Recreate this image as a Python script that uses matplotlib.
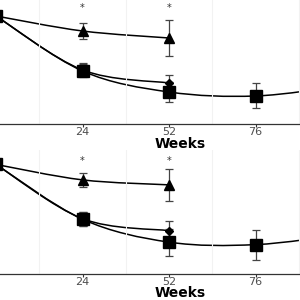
import matplotlib
matplotlib.use("Agg")
import matplotlib.pyplot as plt
from matplotlib.path import Path
from matplotlib.patches import PathPatch
import numpy as np

plt.rcParams['font.family'] = ['DejaVu Sans']

weeks = ["0", "24", "52", "76", "104"]

# panel 1 (arbitrary units)
top_tri = [10.8, 9.3, 8.6]
top_tri_err = [0, 0.8, 1.8]
top_dia = [10.8, 5.4, 4.1]
top_dia_err = [0, 0.65, 0.8]
top_sq = [10.8, 5.3, 3.2, 2.8, 3.8]
top_sq_err = [0, 0.65, 1.0, 1.25, 1.2]
top_star = 11.6

# panel 2
bot_tri = [10.95, 9.4, 8.9]
bot_tri_err = [0, 0.7, 1.6]
bot_dia = [10.95, 5.5, 4.3]
bot_dia_err = [0, 0.7, 1.0]
bot_sq = [10.95, 5.45, 3.15, 2.9, 3.9]
bot_sq_err = [0, 0.7, 1.35, 1.5, 1.3]
bot_star = 11.25


def smooth_line(ax, xs, ys, lw=1.1):
    """draw a Catmull-Rom style bezier through the points"""
    pts = np.column_stack([xs, ys]).astype(float)
    verts = [pts[0]]
    codes = [Path.MOVETO]
    n = len(pts)
    for i in range(n - 1):
        p0 = pts[i - 1] if i > 0 else pts[i]
        p1 = pts[i]
        p2 = pts[i + 1]
        p3 = pts[i + 2] if i + 2 < n else pts[i + 1]
        c1 = p1 + (p2 - p0) / 6.0
        c2 = p2 - (p3 - p1) / 6.0
        verts += [c1, c2, p2]
        codes += [Path.CURVE4] * 3
    ax.add_patch(PathPatch(Path(verts, codes), facecolor='none',
                           edgecolor='black', lw=lw))


def panel(ax, tri, tri_err, dia, dia_err, sq, sq_err, star):
    x_tri = np.arange(len(tri))
    x_dia = np.arange(len(dia))
    x_sq = np.arange(len(sq))

    smooth_line(ax, x_tri, tri)
    smooth_line(ax, x_dia, dia)
    smooth_line(ax, x_sq, sq)

    ekw = dict(fmt='none', ecolor='#444444', elinewidth=0.9, capsize=3, capthick=0.9)
    ax.errorbar(x_tri[1:], tri[1:], yerr=tri_err[1:], **ekw)
    ax.errorbar(x_dia[1:], dia[1:], yerr=dia_err[1:], **ekw)
    ax.errorbar(x_sq[1:], sq[1:], yerr=sq_err[1:], **ekw)

    ax.plot(x_tri, tri, ls='none', marker='^', ms=7, color='black')
    ax.plot(x_dia, dia, ls='none', marker='D', ms=4.5, color='black')
    ax.plot(x_sq, sq, ls='none', marker='s', ms=8, color='black')

    for xi in x_tri[1:]:
        ax.text(xi, star, "*", ha='center', va='center', fontsize=7, color='#333333')

    ax.set_xticks(np.arange(len(weeks)))
    ax.set_xticklabels(weeks)
    ax.set_xticks(np.arange(len(weeks)) - 0.5, minor=True)
    ax.set_xlim(0.0462, 3.514)
    ax.set_ylim(0, 12.4)
    ax.grid(which='minor', axis='x', color='#f2f2f2', lw=0.8)
    ax.set_yticks([])
    for s in ['left', 'top', 'right']:
        ax.spines[s].set_visible(False)
    ax.spines['bottom'].set_linewidth(0.9)
    ax.spines['bottom'].set_color('#333333')
    ax.tick_params(axis='x', which='major', length=2.5, width=0.8, color='#333333',
                   labelsize=8, labelcolor='#4d4d4d', pad=0)
    ax.tick_params(axis='x', which='minor', length=0)
    ax.set_xlabel("Weeks", fontsize=10, fontweight='bold')
    ax.xaxis.set_label_coords(0.6, -0.19)
    ax.xaxis.label.set_verticalalignment('baseline')
    ax.set_facecolor('white')


fig = plt.figure(figsize=(3, 3), dpi=100)
ax1 = fig.add_axes([0, 0.5867, 1, 0.4133])
ax2 = fig.add_axes([0, 0.0883, 1, 0.4117])

panel(ax1, top_tri, top_tri_err, top_dia, top_dia_err, top_sq, top_sq_err, top_star)
panel(ax2, bot_tri, bot_tri_err, bot_dia, bot_dia_err, bot_sq, bot_sq_err, bot_star)

fig.savefig("out.png", dpi=100)
